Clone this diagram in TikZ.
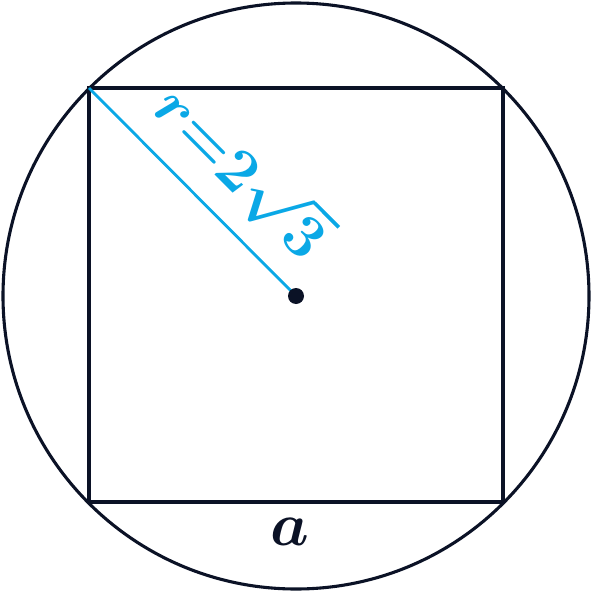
\documentclass[tikz,border=0pt]{standalone}
\usepackage{tikz}
\usetikzlibrary{positioning}

\definecolor{ink}{HTML}{0B1226}
\definecolor{sky}{HTML}{0AA8E6}

\newcommand{\bigtext}[1]{\scalebox{2.1}{\huge\boldmath #1}}

\begin{document}
\begin{tikzpicture}[
    x=0.025cm, y=-0.025cm,
    outline/.style={line width=2.2pt, draw=ink},
    radius line/.style={line width=2pt, draw=sky},
    big label/.style={inner sep=0pt}
]
\useasboundingbox (0,0) rectangle (593,592);

\coordinate (centre) at (296,296);
\coordinate (tl) at (89,88);
\coordinate (tr) at (503,88);
\coordinate (br) at (503,502);
\coordinate (bl) at (89,502);

\draw[outline] (centre) circle[radius=293];
\draw[outline] (tl) -- (tr) -- (br) -- (bl) -- cycle;

\path[radius line] (tl) -- node[pos=0.57, sloped, above=0.45cm, big label, text=sky] {\bigtext{$r{=}2\sqrt{3}$}} (centre);
\fill[ink] (centre) circle[radius=8];

\node (side) [big label, text=ink] at (290,532) {\bigtext{$a$}};
\end{tikzpicture}
\end{document}
